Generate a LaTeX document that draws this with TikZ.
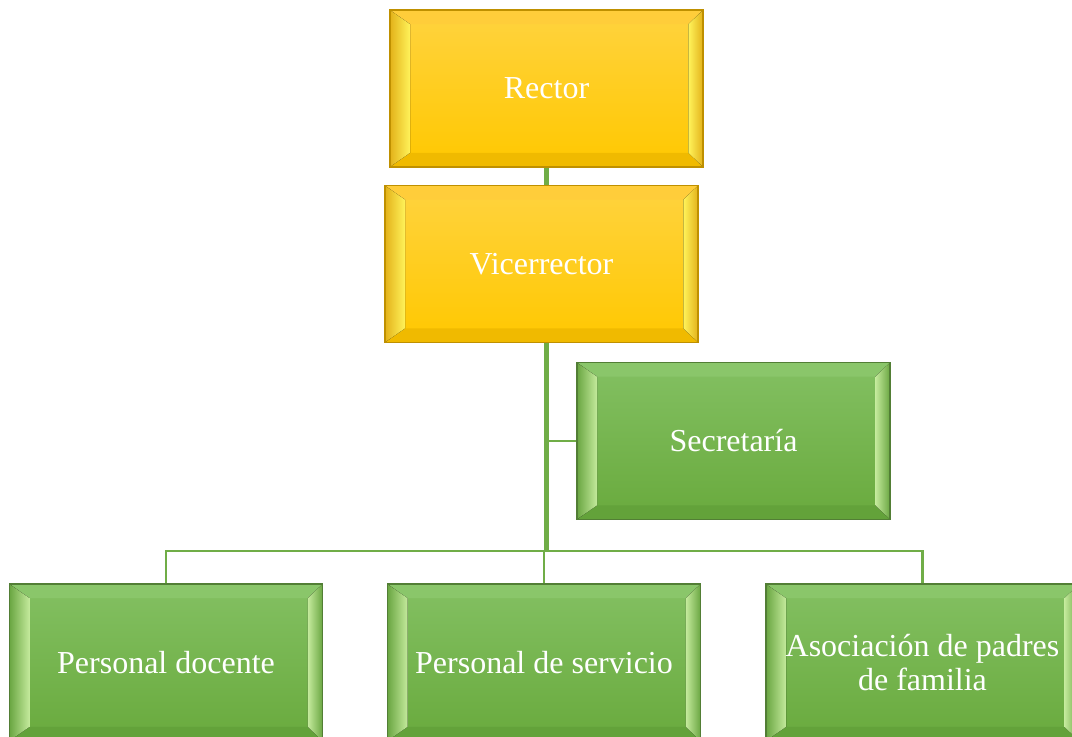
\documentclass[tikz,border=0pt]{standalone}
\usepackage{fontspec}
\setmainfont{Liberation Serif}
\usetikzlibrary{calc}
\definecolor{conn}{HTML}{70AD47}
\definecolor{yTop}{HTML}{FFD33F}
\definecolor{yBot}{HTML}{FFC800}
\definecolor{yEdge}{HTML}{BF9000}
\definecolor{yDark}{HTML}{E3B21A}
\definecolor{yBright}{HTML}{FFF35A}
\definecolor{yTopB}{HTML}{FFCD3A}
\definecolor{yBotB}{HTML}{F0BA00}
\definecolor{gTop}{HTML}{83C062}
\definecolor{gBot}{HTML}{69AA3D}
\definecolor{gEdge}{HTML}{527E35}
\definecolor{gDark}{HTML}{6AA642}
\definecolor{gBright}{HTML}{C4EA9C}
\definecolor{gTopB}{HTML}{8AC66A}
\definecolor{gBotB}{HTML}{63A23A}
\tikzset{
  bevelbox/.style n args={7}{
    draw=#3, line width=1.1pt, top color=#1, bottom color=#2,
    minimum width=234.75pt, minimum height=117.5pt, inner sep=2pt,
    text=white, font=\fontsize{24}{25}\selectfont, align=center,
    path picture={
      \coordinate (OSW) at (path picture bounding box.south west);
      \coordinate (ONE) at (path picture bounding box.north east);
      \coordinate (ONW) at (path picture bounding box.north west);
      \coordinate (OSE) at (path picture bounding box.south east);
      \coordinate (ISW) at ($(OSW)+(15pt,10.5pt)$);
      \coordinate (INE) at ($(ONE)+(-11pt,-10.5pt)$);
      \coordinate (INW) at ($(ONW)+(15pt,-10.5pt)$);
      \coordinate (ISE) at ($(OSE)+(-11pt,10.5pt)$);
      \fill[#6] (ONW) -- (ONE) -- (INE) -- (INW) -- cycle;
      \fill[#7] (OSW) -- (OSE) -- (ISE) -- (ISW) -- cycle;
      \fill[left color=#4, right color=#5] (OSW) -- (ONW) -- (INW) -- (ISW) -- cycle;
      \fill[left color=#5, right color=#4] (OSE) -- (ONE) -- (INE) -- (ISE) -- cycle;
    }
  },
  yellowbox/.style={bevelbox={yTop}{yBot}{yEdge}{yDark}{yBright}{yTopB}{yBotB}},
  greenbox/.style={bevelbox={gTop}{gBot}{gEdge}{gDark}{gBright}{gTopB}{gBotB}},
  trunk/.style={draw=conn, line width=3.5pt},
  branch/.style={draw=conn, line width=2.2pt}
}
\begin{document}
\begin{tikzpicture}[x=0.75pt, y=-0.75pt]
  \useasboundingbox (0,0) rectangle (1072,737);
  \coordinate (bus) at (546.5,551);
  \node[yellowbox] (rector) at (546.5,88.5) {Rector};
  \node[yellowbox] (vice) at (541.5,264) {Vicerrector};
  \node[greenbox] (secr) at (733.5,441) {Secretaría};
  \node[greenbox] (doc) at (166,662.5) {Personal docente};
  \node[greenbox] (serv) at (544,662.5) {Personal de servicio};
  \node[greenbox] (asoc) at (922.5,662.5) {Asociación de padres\\de familia};
  \draw[trunk] (rector.south) -- (rector.south |- vice.north);
  \draw[trunk] (rector.south |- vice.south) -- (bus);
  \draw[branch] (bus |- secr.west) -- (secr.west);
  \draw[branch] (doc.north) -- (doc.north |- bus) -- (asoc.north |- bus) -- (asoc.north);
  \draw[branch] (serv.north |- bus) -- (serv.north);
\end{tikzpicture}
\end{document}
